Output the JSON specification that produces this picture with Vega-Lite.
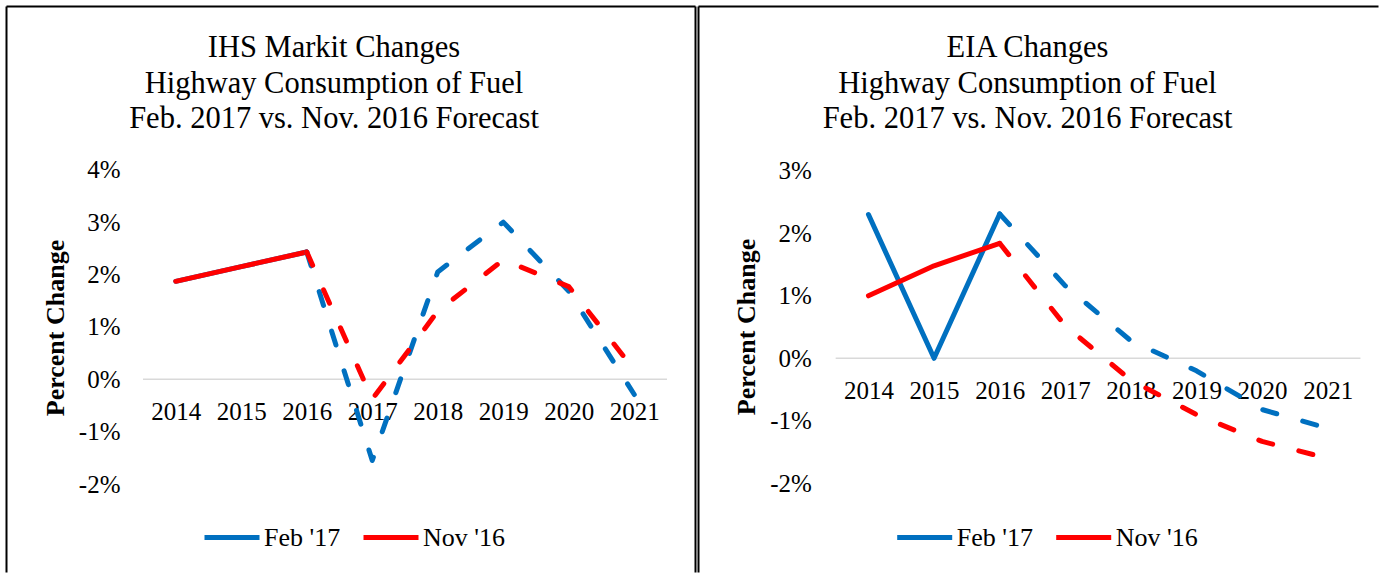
{
  "$schema": "https://vega.github.io/schema/vega-lite/v6.json",
  "padding": {"left": 5.5, "top": 5.5, "right": 0, "bottom": 0},
  "background": "white",
  "spacing": 3,
  "bounds": "flush",
  "resolve": {"scale": {"color": "independent"}, "legend": {"color": "independent"}},
  "datasets": {
    "ihs": [
      {"series": "Feb '17", "year": 2014, "value": 1.87},
      {"series": "Feb '17", "year": 2015, "value": 2.15},
      {"series": "Feb '17", "year": 2016, "value": 2.43},
      {"series": "Feb '17", "year": 2017, "value": -1.55},
      {"series": "Feb '17", "year": 2018, "value": 2.05},
      {"series": "Feb '17", "year": 2019, "value": 3.0},
      {"series": "Feb '17", "year": 2020, "value": 1.68},
      {"series": "Feb '17", "year": 2021, "value": -0.29},
      {"series": "Nov '16", "year": 2014, "value": 1.87},
      {"series": "Nov '16", "year": 2015, "value": 2.15},
      {"series": "Nov '16", "year": 2016, "value": 2.43},
      {"series": "Nov '16", "year": 2017, "value": -0.38},
      {"series": "Nov '16", "year": 2018, "value": 1.3},
      {"series": "Nov '16", "year": 2019, "value": 2.28},
      {"series": "Nov '16", "year": 2020, "value": 1.77},
      {"series": "Nov '16", "year": 2021, "value": 0.18}
    ],
    "eia": [
      {"series": "Feb '17", "year": 2014, "value": 2.3},
      {"series": "Feb '17", "year": 2015, "value": 0.0},
      {"series": "Feb '17", "year": 2016, "value": 2.31},
      {"series": "Feb '17", "year": 2017, "value": 1.16},
      {"series": "Feb '17", "year": 2018, "value": 0.28},
      {"series": "Feb '17", "year": 2019, "value": -0.2},
      {"series": "Feb '17", "year": 2020, "value": -0.82},
      {"series": "Feb '17", "year": 2021, "value": -1.12},
      {"series": "Nov '16", "year": 2014, "value": 1.0},
      {"series": "Nov '16", "year": 2015, "value": 1.48},
      {"series": "Nov '16", "year": 2016, "value": 1.84},
      {"series": "Nov '16", "year": 2017, "value": 0.52},
      {"series": "Nov '16", "year": 2018, "value": -0.35},
      {"series": "Nov '16", "year": 2019, "value": -0.9},
      {"series": "Nov '16", "year": 2020, "value": -1.33},
      {"series": "Nov '16", "year": 2021, "value": -1.6}
    ]
  },
  "config": {
    "view": {"stroke": null},
    "font": "Liberation Serif",
    "axis": {
      "labelFont": "Liberation Serif",
      "labelFontSize": 25,
      "labelColor": "#000000",
      "domain": false,
      "ticks": false,
      "tickSize": 0,
      "grid": false,
      "titleFont": "Liberation Serif",
      "titleColor": "#000000"
    },
    "legend": {
      "orient": "none",
      "direction": "horizontal",
      "symbolType": "stroke",
      "symbolSize": 3025,
      "symbolStrokeWidth": 5,
      "labelFont": "Liberation Serif",
      "labelFontSize": 26,
      "labelColor": "#000000",
      "labelOffset": 2,
      "columnPadding": 12,
      "title": null
    },
    "title": {
      "font": "Liberation Serif",
      "fontSize": 30.5,
      "fontWeight": "normal",
      "color": "#000000",
      "lineHeight": 35.5,
      "anchor": "middle",
      "frame": "group",
      "offset": -129
    }
  },
  "hconcat": [
    {
      "width": 689,
      "height": 566,
      "data": {"name": "ihs"},
      "title": {"text": ["IHS Markit Changes", "Highway Consumption of Fuel", "Feb. 2017 vs. Nov. 2016 Forecast"], "dx": -17},
      "layer": [
        {
          "data": {"values": [{}]},
          "mark": {"type": "rule", "color": "#000000", "strokeWidth": 2},
          "encoding": {"x": {"datum": 2011.416, "type": "quantitative", "scale": {"domain": [2011.416, 2021.935], "nice": false, "zero": false}}}
        },
        {
          "data": {"values": [{}]},
          "mark": {"type": "rule", "color": "#000000", "strokeWidth": 2},
          "encoding": {"x": {"datum": 2021.935, "type": "quantitative", "scale": {"domain": [2011.416, 2021.935], "nice": false, "zero": false}}}
        },
        {
          "data": {"values": [{}]},
          "mark": {"type": "rule", "color": "#000000", "strokeWidth": 2},
          "encoding": {"y": {"datum": 7.115, "type": "quantitative", "scale": {"domain": [-3.687, 7.115], "nice": false, "zero": false}}}
        },
        {
          "data": {"values": [{}]},
          "mark": {"type": "rule", "color": "#d9d9d9", "strokeWidth": 1.5},
          "encoding": {
            "x": {"datum": 2013.5, "type": "quantitative", "scale": {"domain": [2011.416, 2021.935], "nice": false, "zero": false}},
            "x2": {"datum": 2021.5},
            "y": {"datum": 0, "type": "quantitative", "scale": {"domain": [-3.687, 7.115], "nice": false, "zero": false}}
          }
        },
        {
          "transform": [{"filter": "datum.year <= 2016"}],
          "mark": {"type": "line", "strokeWidth": 5, "strokeCap": "round", "strokeJoin": "round"},
          "encoding": {
            "x": {"field": "year", "type": "quantitative", "scale": {"domain": [2011.416, 2021.935], "nice": false, "zero": false},
              "axis": {"values": [2014, 2015, 2016, 2017, 2018, 2019, 2020, 2021], "format": "d", "offset": -193.2, "labelPadding": 20, "title": null, "labelFlush": false, "labelOverlap": false}},
            "y": {"field": "value", "type": "quantitative", "scale": {"domain": [-3.687, 7.115], "nice": false, "zero": false},
              "axis": {"values": [-2, -1, 0, 1, 2, 3, 4], "labelExpr": "datum.value + '%'", "offset": -113.5, "labelPadding": 0, "labelFlush": false, "labelOverlap": false,
                "title": "Percent Change", "titleFontSize": 26, "titleFontWeight": "bold", "titleX": -65, "titleY": 321, "titleAngle": -90, "titleAlign": "center", "titleBaseline": "middle"}},
            "color": {"field": "series", "type": "nominal", "scale": {"domain": ["Feb '17", "Nov '16"], "range": ["#0070C0", "#FF0000"]},
              "legend": {"legendX": 195.5, "legendY": 501}}
          }
        },
        {
          "transform": [{"filter": "datum.year >= 2016"}],
          "mark": {"type": "line", "strokeWidth": 5, "strokeCap": "round", "strokeJoin": "round", "strokeDash": [14.5, 27]},
          "encoding": {
            "x": {"field": "year", "type": "quantitative", "scale": {"domain": [2011.416, 2021.935], "nice": false, "zero": false}},
            "y": {"field": "value", "type": "quantitative", "scale": {"domain": [-3.687, 7.115], "nice": false, "zero": false}},
            "color": {"field": "series", "type": "nominal", "scale": {"domain": ["Feb '17", "Nov '16"], "range": ["#0070C0", "#FF0000"]}, "legend": null}
          }
        }
      ]
    },
    {
      "width": 680,
      "height": 566,
      "data": {"name": "eia"},
      "title": {"text": ["EIA Changes", "Highway Consumption of Fuel", "Feb. 2017 vs. Nov. 2016 Forecast"], "dx": -11},
      "layer": [
        {
          "data": {"values": [{}]},
          "mark": {"type": "rule", "color": "#000000", "strokeWidth": 2},
          "encoding": {"x": {"datum": 2011.409, "type": "quantitative", "scale": {"domain": [2011.409, 2021.775], "nice": false, "zero": false}}}
        },
        {
          "data": {"values": [{}]},
          "mark": {"type": "rule", "color": "#000000", "strokeWidth": 2},
          "encoding": {"y": {"datum": 5.629, "type": "quantitative", "scale": {"domain": [-3.427, 5.629], "nice": false, "zero": false}}}
        },
        {
          "data": {"values": [{}]},
          "mark": {"type": "rule", "color": "#d9d9d9", "strokeWidth": 1.5},
          "encoding": {
            "x": {"datum": 2013.5, "type": "quantitative", "scale": {"domain": [2011.409, 2021.775], "nice": false, "zero": false}},
            "x2": {"datum": 2021.5},
            "y": {"datum": 0, "type": "quantitative", "scale": {"domain": [-3.427, 5.629], "nice": false, "zero": false}}
          }
        },
        {
          "transform": [{"filter": "datum.year <= 2016"}],
          "mark": {"type": "line", "strokeWidth": 5, "strokeCap": "round", "strokeJoin": "round"},
          "encoding": {
            "x": {"field": "year", "type": "quantitative", "scale": {"domain": [2011.409, 2021.775], "nice": false, "zero": false},
              "axis": {"values": [2014, 2015, 2016, 2017, 2018, 2019, 2020, 2021], "format": "d", "offset": -214.2, "labelPadding": 20, "title": null, "labelFlush": false, "labelOverlap": false}},
            "y": {"field": "value", "type": "quantitative", "scale": {"domain": [-3.427, 5.629], "nice": false, "zero": false},
              "axis": {"values": [-2, -1, 0, 1, 2, 3], "labelExpr": "datum.value + '%'", "offset": -112.9, "labelPadding": 0, "labelFlush": false, "labelOverlap": false,
                "title": "Percent Change", "titleFontSize": 26, "titleFontWeight": "bold", "titleX": -64.7, "titleY": 320, "titleAngle": -90, "titleAlign": "center", "titleBaseline": "middle"}},
            "color": {"field": "series", "type": "nominal", "scale": {"domain": ["Feb '17", "Nov '16"], "range": ["#0070C0", "#FF0000"]},
              "legend": {"legendX": 196.2, "legendY": 501}}
          }
        },
        {
          "transform": [{"filter": "datum.year >= 2016"}],
          "mark": {"type": "line", "strokeWidth": 5, "strokeCap": "round", "strokeJoin": "round", "strokeDash": [14.5, 27]},
          "encoding": {
            "x": {"field": "year", "type": "quantitative", "scale": {"domain": [2011.409, 2021.775], "nice": false, "zero": false}},
            "y": {"field": "value", "type": "quantitative", "scale": {"domain": [-3.427, 5.629], "nice": false, "zero": false}},
            "color": {"field": "series", "type": "nominal", "scale": {"domain": ["Feb '17", "Nov '16"], "range": ["#0070C0", "#FF0000"]}, "legend": null}
          }
        }
      ]
    }
  ]
}
